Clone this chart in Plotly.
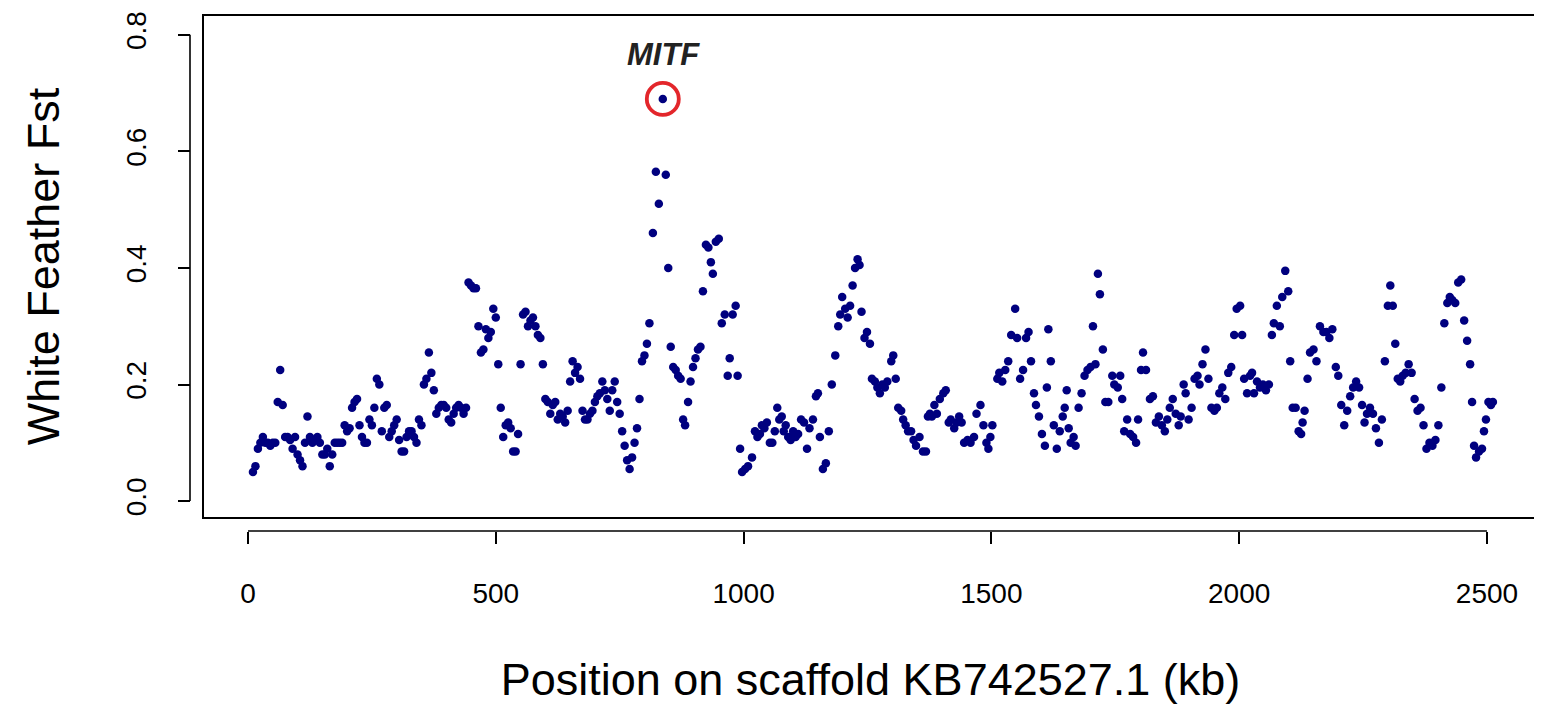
import plotly.graph_objects as go

# ---------------- data ----------------
position_kb = [
    10, 15, 20, 25, 30, 35, 40, 45, 50, 55, 60, 65, 70, 75, 80, 85, 90, 95, 100, 105,
    110, 115, 120, 125, 130, 135, 140, 145, 150, 155, 160, 165, 170, 175, 180, 185, 190, 195, 200, 205,
    210, 215, 220, 225, 230, 235, 240, 245, 250, 255, 260, 265, 270, 275, 280, 285, 290, 295, 300, 305,
    310, 315, 320, 325, 330, 335, 340, 345, 350, 355, 360, 365, 370, 375, 380, 385, 390, 395, 400, 405,
    410, 415, 420, 425, 430, 435, 440,
    445, 450, 455, 460, 465, 470, 475, 480, 485, 490, 495, 500, 505, 510, 515, 520, 525, 530, 535, 540,
    545, 550, 555, 560, 565, 570, 575, 580, 585, 590, 595, 600, 605, 610, 615, 620, 625, 630, 635, 640,
    645, 650, 655, 660, 665, 670, 675, 680, 685, 690, 695, 700, 705, 710, 715, 720, 725, 730, 735, 740,
    745, 750, 755, 760, 765, 770, 775, 780, 785, 790, 795, 800, 805, 810, 817, 823, 829, 837, 843, 848,
    853, 858, 863, 868, 873, 878, 882, 888, 893, 898, 903, 908, 913, 918, 924, 929, 934, 938, 944, 950,
    956, 962, 968, 972, 978, 984, 988, 993,
    997, 1003, 1009, 1017, 1023, 1028, 1033, 1037, 1042, 1047, 1053, 1058, 1063, 1068, 1072, 1077, 1081, 1085, 1090, 1095,
    1100, 1105, 1110, 1116, 1122, 1128, 1133, 1140, 1146, 1150, 1154, 1160, 1166, 1172, 1178, 1185, 1191, 1195, 1199, 1205,
    1210, 1215, 1220, 1225, 1230, 1234, 1238, 1244, 1249, 1255, 1259, 1265, 1270, 1275, 1280, 1285, 1290, 1298, 1302, 1307,
    1312, 1318, 1322, 1327, 1332, 1338, 1343, 1348, 1355, 1362, 1368, 1372, 1376, 1380, 1385, 1390, 1396, 1403, 1408, 1414,
    1418, 1425, 1430, 1435, 1440, 1445, 1452, 1458, 1465, 1470, 1478, 1484, 1490, 1494, 1498, 1502,
    1512, 1516, 1522, 1528, 1534, 1540, 1548, 1552, 1558, 1564, 1570, 1575, 1580, 1586, 1590, 1596, 1602, 1608, 1612, 1615,
    1620, 1626, 1632, 1638, 1644, 1648, 1652, 1656, 1660, 1666, 1670, 1676, 1682, 1688, 1694, 1700, 1705, 1710, 1715, 1719,
    1725, 1730, 1736, 1744, 1748, 1755, 1760, 1764, 1768, 1774, 1780, 1786, 1792, 1796, 1802, 1806, 1812, 1820, 1826, 1832,
    1838, 1844, 1850, 1855, 1860, 1866, 1872, 1878, 1882, 1888, 1892, 1898, 1904, 1910, 1916, 1920, 1926, 1932, 1938, 1944,
    1950, 1955, 1960, 1966, 1972, 1978, 1984, 1990, 1995,
    2002, 2006, 2010, 2016, 2022, 2026, 2030, 2036, 2042, 2048, 2054, 2060, 2066, 2070, 2076, 2082, 2087, 2093, 2099, 2103,
    2108, 2114, 2120, 2125, 2128, 2132, 2138, 2143, 2150, 2156, 2163, 2170, 2176, 2182, 2188, 2195, 2200, 2206, 2212, 2218,
    2224, 2230, 2236, 2242, 2248, 2253, 2258, 2264, 2270, 2276, 2282, 2288, 2294, 2300, 2305, 2310, 2315, 2320, 2325, 2330,
    2336, 2342, 2348, 2354, 2360, 2366, 2372, 2378, 2384, 2390, 2396, 2402, 2408, 2414, 2420, 2425, 2430, 2436, 2442, 2448,
    2454, 2460, 2466, 2470, 2474, 2478, 2484, 2490, 2494, 2498, 2503, 2508, 2512,
]

fst = [
    .05, .06, .09, .10, .11, .10, .10, .095, .10, .10, .17, .225, .165, .11, .11, .105, .09, .11, .08, .07,
    .06, .10, .145, .11, .10, .105, .11, .10, .08, .08, .09, .06, .08, .10, .10, .10, .10, .13, .12, .125,
    .16, .17, .175, .13, .11, .10, .10, .14, .13, .16, .21, .20, .12, .16, .165, .11, .12, .13, .14, .105,
    .085, .085, .11, .12, .12, .11, .10, .14, .13, .20, .21, .255, .22, .19, .15, .16, .165, .165, .16, .14,
    .135, .15, .16, .165, .16, .15, .16,
    .375, .37, .365, .365, .30, .255, .26, .295, .28, .29, .33, .315, .235, .16, .11, .13, .135, .125, .085, .085,
    .115, .235, .32, .325, .30, .31, .315, .30, .285, .28, .235, .175, .17, .15, .165, .17, .14, .15, .145, .135,
    .155, .205, .24, .22, .23, .21, .155, .14, .14, .15, .155, .17, .18, .185, .205, .19, .175, .155, .19, .205,
    .17, .15, .12, .095, .07, .055, .075, .10, .125, .175, .24, .25, .27, .305, .46, .565, .51, .69, .56, .40,
    .265, .23, .225, .215, .21, .14, .13, .17, .205, .23, .245, .26, .265, .36, .44, .435, .41, .39, .445, .45,
    .305, .32, .215, .245, .32, .335, .215, .09,
    .05, .055, .06, .075, .12, .11, .115, .13, .125, .135, .10, .10, .12, .16, .14, .145, .12, .13, .11, .105,
    .12, .11, .115, .14, .135, .09, .125, .14, .18, .185, .11, .055, .065, .12, .20, .25, .30, .32, .35, .33,
    .315, .335, .37, .40, .415, .405, .325, .28, .29, .27, .21, .205, .195, .185, .20, .195, .205, .24, .25, .21,
    .16, .155, .14, .13, .12, .12, .105, .095, .11, .085, .085, .145, .15, .145, .165, .15, .175, .185, .19, .135,
    .14, .125, .135, .145, .135, .10, .105, .10, .11, .15, .165, .13, .10, .09, .11, .13,
    .21, .22, .205, .225, .24, .285, .33, .28, .21, .225, .28, .29, .24, .185, .165, .145, .115, .095, .195, .295,
    .24, .13, .09, .12, .145, .16, .19, .125, .10, .11, .095, .16, .185, .215, .225, .23, .30, .235, .39, .355,
    .26, .17, .17, .215, .20, .195, .215, .175, .12, .14, .115, .11, .10, .14, .225, .255, .225, .175, .18, .135,
    .145, .13, .12, .14, .16, .175, .15, .13, .145, .20, .185, .14, .16, .21, .215, .20, .235, .26, .21, .16,
    .155, .16, .185, .195, .175, .22, .23, .285, .33,
    .335, .285, .21, .185, .215, .22, .185, .205, .195, .20, .19, .20, .285, .305, .335, .30, .35, .395, .36, .24,
    .16, .16, .12, .115, .135, .155, .21, .255, .26, .24, .30, .29, .29, .28, .295, .23, .215, .165, .13, .155,
    .18, .195, .205, .195, .165, .135, .15, .16, .15, .125, .10, .14, .24, .335, .37, .335, .27, .21, .205, .215,
    .22, .235, .22, .175, .155, .16, .13, .09, .10, .095, .105, .13, .195, .305, .34, .35, .345, .34, .375, .38,
    .31, .275, .235, .17, .095, .075, .085, .09, .12, .14, .17, .165, .17,
]

highlight_gene = "MITF"
highlight_pos = 837
highlight_fst = 0.69

x_ticks = [0, 500, 1000, 1500, 2000, 2500]
y_ticks = [0.0, 0.2, 0.4, 0.6, 0.8]
y_tick_labels = ["0.0", "0.2", "0.4", "0.6", "0.8"]

x_title = "Position on scaffold KB742527.1 (kb)"
y_title = "White Feather Fst"

# ---------------- layout geometry (screen px, page has 8px body margin) ----------------
OFF = 8
W, H = 1542 - OFF, 706 - OFF
ML, MR, MT = 150 - OFF, 4, 15 - OFF
MB = 150
box_left, box_bottom = 203 - OFF, 518 - OFF
pw = W - ML - MR
ph = H - MT - MB
x_dom0 = (box_left - ML) / pw
y_dom0 = (H - MB - box_bottom) / ph
yaxis_line_px = 190 - OFF
xaxis_line_px = 531 - OFF
y_axis_pos = (yaxis_line_px - ML) / pw
x_axis_pos = (H - MB - xaxis_line_px) / ph

font_family = "Liberation Sans, Arial, sans-serif"

fig = go.Figure()
fig.add_trace(go.Scatter(
    x=position_kb, y=fst, mode="markers",
    marker=dict(color="#00007F", size=8.5, line=dict(width=0)),
    hoverinfo="x+y", showlegend=False,
))
fig.add_trace(go.Scatter(
    x=[highlight_pos], y=[highlight_fst], mode="markers",
    marker=dict(symbol="circle-open", size=32, color="#E3262B", line=dict(width=3.8, color="#E3262B")),
    showlegend=False, hoverinfo="skip",
))
fig.add_annotation(
    x=highlight_pos, y=highlight_fst, xref="x", yref="y",
    text="<b><i>%s</i></b>" % highlight_gene, showarrow=False,
    yshift=44, xshift=1, font=dict(family=font_family, size=31, color="#222222"),
)

axis_common = dict(
    showgrid=False, zeroline=False, ticks="outside", ticklen=12, tickwidth=1.6,
    tickcolor="black", showline=False,
    tickfont=dict(family=font_family, size=28, color="black"),
)

fig.update_layout(
    width=W, height=H,
    margin=dict(l=ML, r=MR, t=MT, b=MB, autoexpand=False),
    paper_bgcolor="white", plot_bgcolor="white",
    xaxis=dict(
        domain=[x_dom0, 1], range=[-90.8, 2603], anchor="free", position=x_axis_pos,
        tickvals=x_ticks, ticktext=[str(v) for v in x_ticks], ticklabelstandoff=25,
        title=dict(text=x_title, font=dict(family=font_family, size=45, color="black"), standoff=55),
        **axis_common,
    ),
    yaxis=dict(
        domain=[y_dom0, 1], range=[-0.029, 0.834], anchor="free", position=y_axis_pos,
        tickvals=y_ticks, ticktext=y_tick_labels, tickangle=-90, ticklabelstandoff=21,
        title=dict(text=y_title, font=dict(family=font_family, size=45, color="black"), standoff=46),
        **axis_common,
    ),
    shapes=[
        dict(type="rect", xref="paper", yref="paper", x0=x_dom0, x1=1, y0=y_dom0, y1=1,
             line=dict(color="black", width=2), fillcolor="rgba(0,0,0,0)", layer="above"),
        dict(type="line", xref="x", yref="paper", x0=x_ticks[0], x1=x_ticks[-1],
             y0=x_axis_pos, y1=x_axis_pos, line=dict(color="black", width=1.6)),
        dict(type="line", xref="paper", yref="y", x0=y_axis_pos, x1=y_axis_pos,
             y0=y_ticks[0], y1=y_ticks[-1], line=dict(color="black", width=1.6)),
    ],
)

fig.write_html("out.html")
